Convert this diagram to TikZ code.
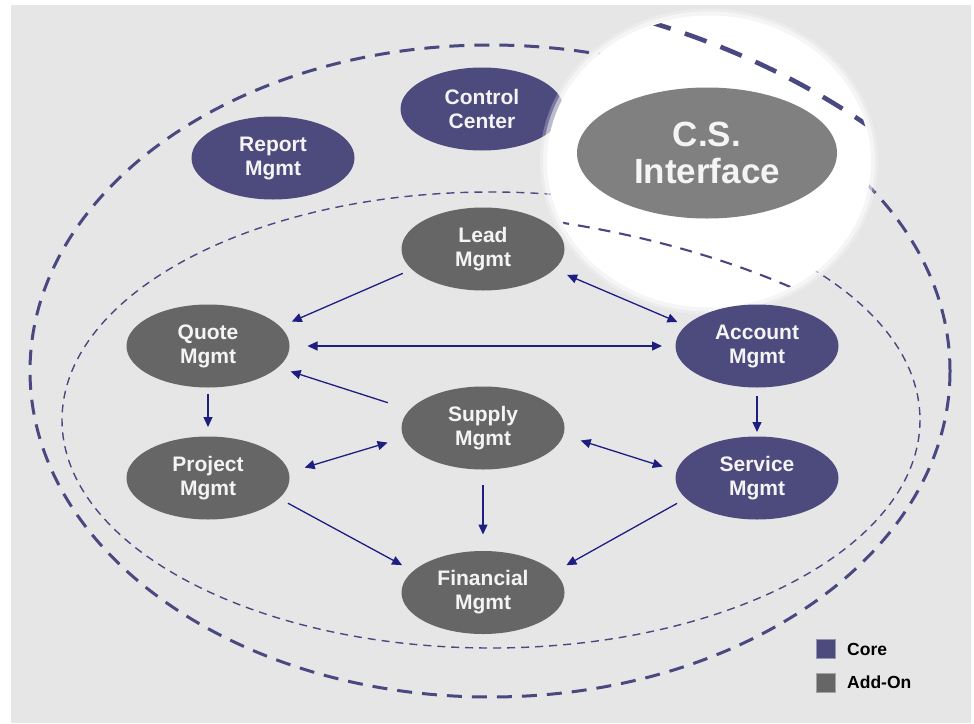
\documentclass[tikz,border=0pt]{standalone}
\usepackage{fontspec}
\setmainfont{Liberation Sans}
\usetikzlibrary{shapes.geometric,arrows.meta}
\definecolor{bg}{HTML}{E6E6E6}
\definecolor{core}{HTML}{4D4A7E}
\definecolor{addon}{HTML}{666666}
\definecolor{csgray}{HTML}{808080}
\definecolor{arrowc}{HTML}{1E1E82}
\definecolor{dashc}{HTML}{4A4880}
\definecolor{ntext}{HTML}{F4F4F4}
\begin{document}
\begin{tikzpicture}[x=1pt,y=-1pt,
 mnode/.style={ellipse, minimum width=163pt, minimum height=83pt, inner sep=0pt, outer sep=0pt, text=ntext, align=center, font=\fontsize{21}{24}\selectfont\bfseries},
 corenode/.style={mnode, fill=core},
 addnode/.style={mnode, fill=addon},
 csnode/.style={ellipse, minimum width=260pt, minimum height=131pt, inner sep=0pt, outer sep=0pt, fill=csgray, text=ntext, align=center, font=\fontsize{35}{37}\selectfont\bfseries},
 arr/.style={draw=arrowc, line width=1.3pt, -{Triangle[length=10pt,width=9pt]}},
 darr/.style={draw=arrowc, line width=1.3pt, {Triangle[length=10pt,width=9pt]}-{Triangle[length=10pt,width=9pt]}},
 outerd/.style={draw=dashc, line width=3pt, dash pattern=on 15pt off 10pt},
 innerd/.style={draw=dashc, line width=1.4pt, dash pattern=on 8pt off 6pt},
 legsq/.style={minimum size=19pt, inner sep=0pt, outer sep=0pt, line width=0.8pt},
 legtext/.style={anchor=base west, inner sep=0pt, text=black, font=\fontsize{17.5}{20}\selectfont\bfseries},
]
\useasboundingbox (0,0) rectangle (974,723);
\fill[white] (0,0) rectangle (974,723);
\fill[bg] (11,5) rectangle (971,723);

% dashed boundaries
\draw[outerd] (490,371) ellipse [x radius=460, y radius=326];
\draw[innerd] (491,420) ellipse [x radius=429, y radius=228];

% nodes beneath the lens
\node[corenode] (report) at (273,158) {Report\\Mgmt};
\node[corenode] (control) at (482,109) {Control\\Center};

% magnifying lens
\fill[white, opacity=0.25] (709,161.5) ellipse [x radius=169, y radius=153];
\fill[white, opacity=0.5] (709,161.5) ellipse [x radius=166, y radius=150];
\fill[white] (709,161.5) ellipse [x radius=162, y radius=146];
\begin{scope}
  \clip (709,161.5) ellipse [x radius=161, y radius=145];
  \draw[outerd, line width=4.6pt, dash pattern=on 23pt off 15pt] (371.7,483.9) ellipse [x radius=708.4, y radius=502];
  \draw[innerd, line width=2.1pt, dash pattern=on 12pt off 9pt] (373.3,559.3) ellipse [x radius=660.7, y radius=351.1];
\end{scope}
\node[csnode] (cs) at (707,153) {C.S.\\Interface};

% main nodes
\node[addnode] (lead) at (483,249) {Lead\\Mgmt};
\node[addnode] (quote) at (208,346) {Quote\\Mgmt};
\node[corenode] (account) at (757,346) {Account\\Mgmt};
\node[addnode] (supply) at (483,428) {Supply\\Mgmt};
\node[addnode] (project) at (208,478) {Project\\Mgmt};
\node[corenode] (service) at (757,478) {Service\\Mgmt};
\node[addnode] (financial) at (483,592.5) {Financial\\Mgmt};

% connectors
\draw[arr, shorten <=10pt, shorten >=12.7pt] (lead.196.7) -- (quote.15.3);
\draw[darr, shorten <=18pt, shorten >=13.5pt] (quote.east) -- (account.west);
\draw[arr, shorten <=23pt, shorten >=13.4pt] (supply.166.5) -- (quote.-17.6);
\draw[arr, shorten <=6.5pt, shorten >=9.5pt] (quote.south) -- (project.north);
\draw[darr, shorten <=16.6pt, shorten >=16.9pt] (project.4.7) -- (supply.187.1);
\draw[arr, shorten <=15.5pt, shorten >=16.5pt] (supply.south) -- (financial.north);
\draw[arr, shorten <=10.2pt, shorten >=12.6pt] (project.-16.7) -- (financial.163.9);
\draw[arr, shorten <=10.2pt, shorten >=14.2pt] (service.196.7) -- (financial.16.6);
\draw[darr, shorten <=18.2pt, shorten >=14.6pt] (supply.-5.8) -- (service.175.2);
\draw[arr, shorten <=8.5pt, shorten >=4.5pt] (account.south) -- (service.north);
\draw[darr, shorten <=14.2pt, shorten >=9.3pt] (lead.-16.6) -- (account.164);

% legend
\node[legsq, fill=core, draw=core!60!white] (sqcore) at (825.5,648.5) {};
\node[legsq, fill=addon, draw=addon!60!white] (sqadd) at (825.5,682.5) {};
\node[legtext] (lcore) at (847,655) {Core};
\node[legtext] (ladd) at (847,688.5) {Add-On};
\end{tikzpicture}
\end{document}
